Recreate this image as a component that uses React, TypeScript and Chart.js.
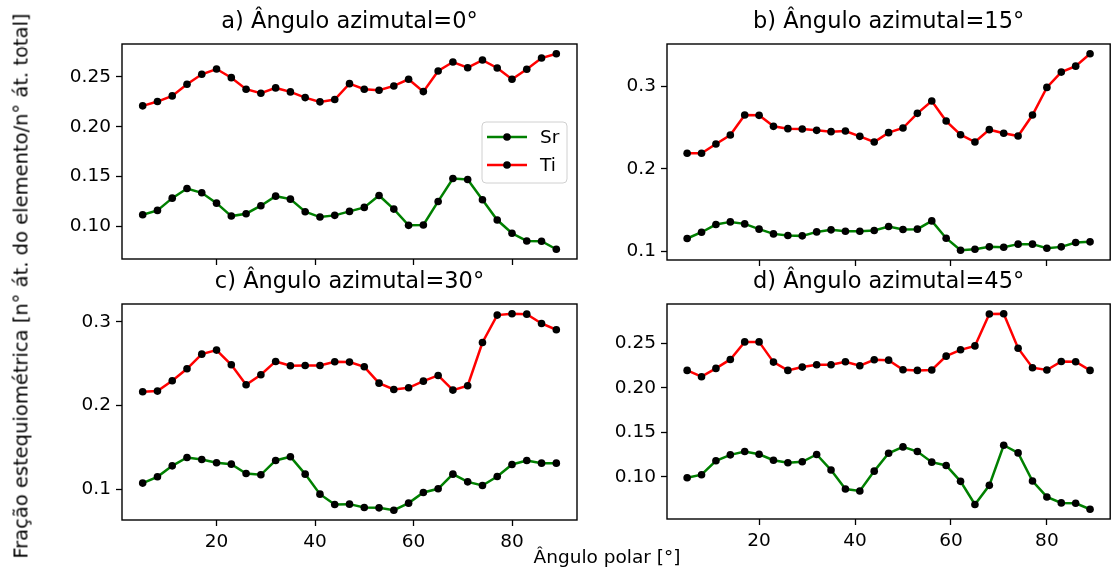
import React, { useEffect, useRef } from 'react';
import { Chart, registerables } from 'chart.js';

Chart.register(...registerables);

const FONT = "'DejaVu Sans', 'Noto Sans', sans-serif";

const polarAngles = [5, 8, 11, 14, 17, 20, 23, 26, 29, 32, 35, 38, 41, 44, 47, 50, 53, 56, 59, 62, 65, 68, 71, 74, 77, 80, 83, 86, 89];

const srA = [0.1117, 0.116, 0.1283, 0.138, 0.1337, 0.1233, 0.1103, 0.1127, 0.1207, 0.1303, 0.1273, 0.1147, 0.1093, 0.111, 0.115, 0.119, 0.131, 0.1173, 0.101, 0.1013, 0.125, 0.148, 0.147, 0.1267, 0.1063, 0.093, 0.0853, 0.085, 0.077];
const tiA = [0.221, 0.2253, 0.231, 0.2427, 0.2527, 0.258, 0.2493, 0.2377, 0.2337, 0.239, 0.235, 0.2293, 0.225, 0.2273, 0.2433, 0.2377, 0.2367, 0.241, 0.2477, 0.2353, 0.256, 0.265, 0.2593, 0.267, 0.259, 0.2477, 0.2577, 0.269, 0.2733];

const srB = [0.1157, 0.1233, 0.1326, 0.1358, 0.1334, 0.127, 0.1213, 0.1193, 0.1189, 0.1237, 0.1262, 0.1245, 0.1245, 0.1254, 0.1302, 0.1266, 0.127, 0.137, 0.1161, 0.1016, 0.1028, 0.1056, 0.1052, 0.1089, 0.1089, 0.104, 0.1056, 0.1109, 0.1117];
const tiB = [0.2187, 0.2187, 0.23, 0.2408, 0.265, 0.2646, 0.2513, 0.2485, 0.2481, 0.2465, 0.2449, 0.2457, 0.2392, 0.2324, 0.2437, 0.2493, 0.267, 0.2819, 0.2577, 0.2412, 0.2324, 0.2473, 0.2429, 0.2396, 0.265, 0.2984, 0.3169, 0.3241, 0.339];

const srC = [0.1076, 0.1151, 0.1282, 0.1382, 0.1358, 0.1318, 0.1302, 0.1191, 0.1175, 0.1346, 0.139, 0.1183, 0.0944, 0.0821, 0.0825, 0.0785, 0.0781, 0.0753, 0.0837, 0.0964, 0.1008, 0.1183, 0.1091, 0.1048, 0.1155, 0.1298, 0.1346, 0.1314, 0.1314];
const tiC = [0.2165, 0.2173, 0.2296, 0.2439, 0.2614, 0.2662, 0.2487, 0.2249, 0.2368, 0.2527, 0.2475, 0.2479, 0.2479, 0.2523, 0.2519, 0.2463, 0.2268, 0.2193, 0.2213, 0.2292, 0.236, 0.2185, 0.2237, 0.2753, 0.308, 0.3095, 0.3091, 0.298, 0.2905];

const srD = [0.0989, 0.1023, 0.1179, 0.1246, 0.1283, 0.1253, 0.1186, 0.1157, 0.1168, 0.125, 0.1075, 0.0862, 0.084, 0.1063, 0.1264, 0.1335, 0.1283, 0.1164, 0.1127, 0.0948, 0.0688, 0.0903, 0.1354, 0.1268, 0.0952, 0.0773, 0.0706, 0.0702, 0.0635];
const tiD = [0.2195, 0.2124, 0.2217, 0.2318, 0.2515, 0.2515, 0.2288, 0.2195, 0.2232, 0.2258, 0.2258, 0.2292, 0.2247, 0.2314, 0.231, 0.2202, 0.2195, 0.2199, 0.2355, 0.2426, 0.247, 0.2828, 0.2831, 0.2444, 0.2225, 0.2199, 0.2295, 0.2292, 0.2195];

const xTicks = [20, 40, 60, 80];
const yTicksA = [0.1, 0.15, 0.2, 0.25];
const yTicksB = [0.1, 0.2, 0.3];
const yTicksC = [0.1, 0.2, 0.3];
const yTicksD = [0.1, 0.15, 0.2, 0.25];

const seriesNames = ['Sr', 'Ti'];
const seriesColors = ['#008000', '#ff0000'];
const panelTitles = [
  'a) Ângulo azimutal=0°',
  'b) Ângulo azimutal=15°',
  'c) Ângulo azimutal=30°',
  'd) Ângulo azimutal=45°',
];
const xLabel = 'Ângulo polar [°]';
const yLabel = 'Fração estequiométrica [n° át. do elemento/n° át. total]';

const CW = 1114;
const CH = 567;
const Y_AXIS_W = 70;
const X_AXIS_H = 40;
const TICK_SIZE = 18.5;

type Panel = {
  title: string;
  sr: number[];
  ti: number[];
  yTicks: number[];
  decimals: number;
  rect: { left: number; top: number; right: number; bottom: number };
  showX: boolean;
  legend: boolean;
};

const panels: Panel[] = [
  { title: panelTitles[0], sr: srA, ti: tiA, yTicks: yTicksA, decimals: 2, rect: { left: 122, top: 44, right: 577, bottom: 259 }, showX: false, legend: true },
  { title: panelTitles[1], sr: srB, ti: tiB, yTicks: yTicksB, decimals: 1, rect: { left: 667, top: 44, right: 1113, bottom: 260 }, showX: false, legend: false },
  { title: panelTitles[2], sr: srC, ti: tiC, yTicks: yTicksC, decimals: 1, rect: { left: 122, top: 304, right: 577, bottom: 520 }, showX: true, legend: false },
  { title: panelTitles[3], sr: srD, ti: tiD, yTicks: yTicksD, decimals: 2, rect: { left: 667, top: 304, right: 1113, bottom: 519 }, showX: true, legend: false },
];

function PanelChart({ panel }: { panel: Panel }) {
  const ref = useRef<HTMLCanvasElement | null>(null);
  useEffect(() => {
    if (!ref.current) return;
    const all = [...panel.sr, ...panel.ti];
    const mn = Math.min(...all);
    const mx = Math.max(...all);
    const m = (mx - mn) * 0.05;
    const xmn = Math.min(...polarAngles);
    const xmx = Math.max(...polarAngles);
    const xm = (xmx - xmn) * 0.05;

    const framePlugin = {
      id: 'frameTitleLegend',
      afterDraw(chart: any) {
        const { ctx, chartArea } = chart;
        const { left, top, right, bottom } = chartArea;
        ctx.save();
        ctx.strokeStyle = '#000';
        ctx.lineWidth = 1.4;
        ctx.strokeRect(left, top, right - left, bottom - top);
        ctx.fillStyle = '#000';
        ctx.font = `22.5px ${FONT}`;
        ctx.textAlign = 'center';
        ctx.textBaseline = 'alphabetic';
        ctx.fillText(panel.title, (left + right) / 2, top - 16);
        if (panel.legend) {
          const bw = 85;
          const bh = 61;
          const bx = right - 10 - bw;
          const by = (top + bottom) / 2 - bh / 2 + 1;
          ctx.beginPath();
          (ctx as any).roundRect(bx, by, bw, bh, 4);
          ctx.fillStyle = 'rgba(255,255,255,0.8)';
          ctx.fill();
          ctx.strokeStyle = '#d0d0d0';
          ctx.lineWidth = 1;
          ctx.stroke();
          seriesNames.forEach((name, i) => {
            const y = by + 15 + i * 28;
            ctx.strokeStyle = seriesColors[i];
            ctx.lineWidth = 2.5;
            ctx.beginPath();
            ctx.moveTo(bx + 5, y);
            ctx.lineTo(bx + 45, y);
            ctx.stroke();
            ctx.fillStyle = '#000';
            ctx.beginPath();
            ctx.arc(bx + 25, y, 3.8, 0, Math.PI * 2);
            ctx.fill();
            ctx.font = `${TICK_SIZE}px ${FONT}`;
            ctx.textAlign = 'left';
            ctx.textBaseline = 'middle';
            ctx.fillText(name, bx + 58, y + 1);
          });
        }
        ctx.restore();
      },
    };

    const mkData = (vals: number[]) => polarAngles.map((x, i) => ({ x, y: vals[i] }));

    const chart = new Chart(ref.current, {
      type: 'line',
      data: {
        datasets: [panel.sr, panel.ti].map((vals, i) => ({
          label: seriesNames[i],
          data: mkData(vals),
          borderColor: seriesColors[i],
          borderWidth: 2.5,
          pointRadius: 3.8,
          pointHoverRadius: 3.8,
          pointBackgroundColor: '#000',
          pointBorderColor: '#000',
          pointBorderWidth: 0,
          tension: 0,
          fill: false,
        })),
      },
      options: {
        animation: false,
        responsive: false,
        events: [],
        layout: {
          padding: {
            left: panel.rect.left - Y_AXIS_W,
            top: panel.rect.top,
            right: CW - panel.rect.right,
            bottom: CH - panel.rect.bottom - X_AXIS_H,
          },
        },
        plugins: {
          legend: { display: false },
          tooltip: { enabled: false },
          title: { display: false },
        },
        scales: {
          x: {
            type: 'linear',
            min: xmn - xm,
            max: xmx + xm,
            afterFit: (s: any) => {
              s.height = X_AXIS_H;
            },
            afterBuildTicks: (s: any) => {
              s.ticks = xTicks.map((v) => ({ value: v }));
            },
            ticks: {
              autoSkip: false,
              maxRotation: 0,
              color: '#000',
              font: { family: FONT, size: TICK_SIZE },
              padding: 5,
              callback: (v: any) => (panel.showX ? String(v) : ''),
            },
            grid: {
              drawOnChartArea: false,
              drawTicks: true,
              tickLength: 6,
              tickWidth: 1.3,
              tickColor: '#000',
            },
            border: { display: false },
          },
          y: {
            type: 'linear',
            min: mn - m,
            max: mx + m,
            afterFit: (s: any) => {
              s.width = Y_AXIS_W;
            },
            afterBuildTicks: (s: any) => {
              s.ticks = panel.yTicks.map((v) => ({ value: v }));
            },
            ticks: {
              autoSkip: false,
              color: '#000',
              font: { family: FONT, size: TICK_SIZE },
              padding: 5,
              callback: (v: any) => Number(v).toFixed(panel.decimals),
            },
            grid: {
              drawOnChartArea: false,
              drawTicks: true,
              tickLength: 6,
              tickWidth: 1.3,
              tickColor: '#000',
            },
            border: { display: false },
          },
        },
      },
      plugins: [framePlugin],
    } as any);
    return () => chart.destroy();
  }, [panel]);
  return (
    <canvas
      ref={ref}
      width={CW}
      height={CH}
      style={{ position: 'absolute', left: 0, top: 0, width: CW, height: CH }}
    />
  );
}

export default function App() {
  return (
    <div
      style={{
        position: 'absolute',
        left: 0,
        top: 0,
        width: 1112,
        height: 567,
        overflow: 'hidden',
        background: '#fff',
        fontFamily: FONT,
      }}
    >
      {panels.map((p, i) => (
        <PanelChart key={i} panel={p} />
      ))}
      <div
        style={{
          position: 'absolute',
          left: 607,
          top: 556,
          transform: 'translate(-50%, -50%)',
          fontSize: TICK_SIZE,
          whiteSpace: 'nowrap',
          color: '#000',
        }}
      >
        {xLabel}
      </div>
      <div
        style={{
          position: 'absolute',
          left: 21,
          top: 286,
          transform: 'translate(-50%, -50%) rotate(-90deg)',
          fontSize: 19.5,
          whiteSpace: 'nowrap',
          color: '#000',
        }}
      >
        {yLabel}
      </div>
    </div>
  );
}
